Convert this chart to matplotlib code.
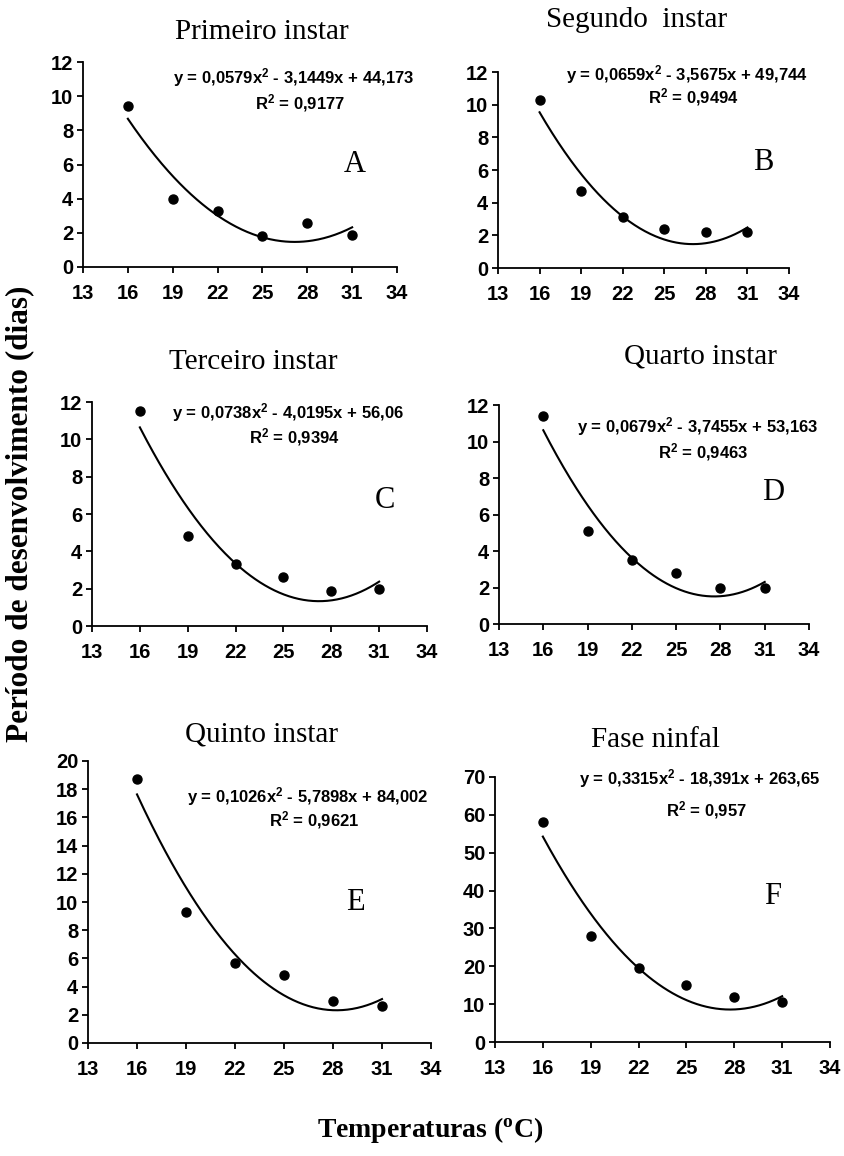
import numpy as np
import matplotlib
matplotlib.use('Agg')
import matplotlib.pyplot as plt

temps = [16, 19, 22, 25, 28, 31]
xticks = [13, 16, 19, 22, 25, 28, 31, 34]

titles = ['Primeiro instar', 'Segundo  instar', 'Terceiro instar',
          'Quarto instar', 'Quinto instar', 'Fase ninfal']
letters = ['A', 'B', 'C', 'D', 'E', 'F']

dias_A = [9.4, 4.0, 3.3, 1.8, 2.6, 1.9]
dias_B = [10.3, 4.7, 3.1, 2.4, 2.2, 2.2]
dias_C = [11.5, 4.8, 3.3, 2.6, 1.9, 2.0]
dias_D = [11.4, 5.1, 3.5, 2.8, 2.0, 1.95]
dias_E = [18.7, 9.3, 5.7, 4.8, 3.0, 2.6]
dias_F = [58, 28, 19.5, 15, 12, 10.5]

# trendline coefficients (a, b, c) for y = a*x^2 + b*x + c
coef_A = [0.0579, -3.1449, 44.173]
coef_B = [0.0659, -3.5675, 49.744]
coef_C = [0.0738, -4.0195, 56.06]
coef_D = [0.0679, -3.7455, 53.163]
coef_E = [0.1026, -5.7898, 84.002]
coef_F = [0.3315, -18.391, 263.65]

eqs = ['y = 0,0579x$^2$ - 3,1449x + 44,173', 'y = 0,0659x$^2$ - 3,5675x + 49,744',
       'y = 0,0738x$^2$ - 4,0195x + 56,06', 'y = 0,0679x$^2$ - 3,7455x + 53,163',
       'y = 0,1026x$^2$ - 5,7898x + 84,002', 'y = 0,3315x$^2$ - 18,391x + 263,65']
r2s = ['R$^2$ = 0,9177', 'R$^2$ = 0,9494', 'R$^2$ = 0,9394',
       'R$^2$ = 0,9463', 'R$^2$ = 0,9621', 'R$^2$ = 0,957']

ymaxs = [12, 12, 12, 12, 20, 70]
ysteps = [2, 2, 2, 2, 2, 10]

dias = [dias_A, dias_B, dias_C, dias_D, dias_E, dias_F]
coefs = [coef_A, coef_B, coef_C, coef_D, coef_E, coef_F]

W, H = 845, 1156
# axes boxes in pixels: left, right, top, bottom
boxes = [(83, 397, 62, 267), (498, 789, 72, 268),
         (92, 427, 402, 626), (499, 809, 405, 624),
         (88, 431, 761, 1043), (495, 830, 777, 1042)]
title_pos = [(262, 32), (637, 20), (253, 362), (700, 357), (262, 735), (655, 740)]
eq_pos = [(0.67, 0.925, 0.8), (0.65, 0.985, 0.87), (0.585, 0.955, 0.845),
          (0.64, 0.90, 0.785), (0.64, 0.875, 0.79), (0.61, 0.996, 0.875)]
letter_pos = [(0.866, 0.50), (0.91, 0.54), (0.875, 0.56),
              (0.885, 0.60), (0.78, 0.50), (0.83, 0.55)]

plt.rcParams['mathtext.fontset'] = 'custom'
plt.rcParams['mathtext.rm'] = 'Liberation Sans:bold'
plt.rcParams['mathtext.default'] = 'regular'

fig = plt.figure(figsize=(W / 100, H / 100), dpi=100)

for i in range(6):
    l, r, t, b = boxes[i]
    ax = fig.add_axes([l / W, 1 - b / H, (r - l) / W, (b - t) / H])
    xs = np.linspace(16, 31, 200)
    a, bb, c = coefs[i]
    ax.plot(xs, a * xs**2 + bb * xs + c, color='black', lw=1.5)
    ax.plot(temps, dias[i], 'o', color='black', ms=6.5)
    ax.set_xlim(13, 34)
    ax.set_ylim(0, ymaxs[i])
    ax.set_xticks(xticks)
    ax.set_yticks(np.arange(0, ymaxs[i] + 1, ysteps[i]))
    ax.spines['top'].set_visible(False)
    ax.spines['right'].set_visible(False)
    ax.spines['left'].set_linewidth(1.3)
    ax.spines['bottom'].set_linewidth(1.3)
    ax.tick_params(direction='out', length=4, width=1.3, labelsize=14.5, pad=3)
    ax.tick_params(axis='x', pad=8)
    for lab in ax.get_xticklabels() + ax.get_yticklabels():
        lab.set_fontfamily('Liberation Sans')
        lab.set_fontweight('bold')
    ex, ey, ry = eq_pos[i]
    ax.text(ex, ey, eqs[i], transform=ax.transAxes, ha='center', va='center',
            fontsize=12, family='Liberation Sans', fontweight='bold')
    ax.text(ex + 0.02, ry, r2s[i], transform=ax.transAxes, ha='center', va='center',
            fontsize=12, family='Liberation Sans', fontweight='bold')
    lx, ly = letter_pos[i]
    ax.text(lx, ly, letters[i], transform=ax.transAxes, ha='center', va='center',
            fontsize=22, family='Liberation Serif')
    tx, ty = title_pos[i]
    fig.text(tx / W, 1 - ty / H, titles[i], ha='center', va='center',
             fontsize=21, family='Liberation Serif')

fig.text(20 / W, 1 - 514 / H, 'Período de desenvolvimento (dias)', rotation=90,
         ha='center', va='center', fontsize=22.5, fontweight='bold', family='Liberation Serif')
fig.text(430 / W, 1 - 1130 / H, 'Temperaturas ($^{o}$C)', ha='center', va='center',
         fontsize=20, fontweight='bold', family='Liberation Serif')

fig.savefig('out.png', dpi=100)
